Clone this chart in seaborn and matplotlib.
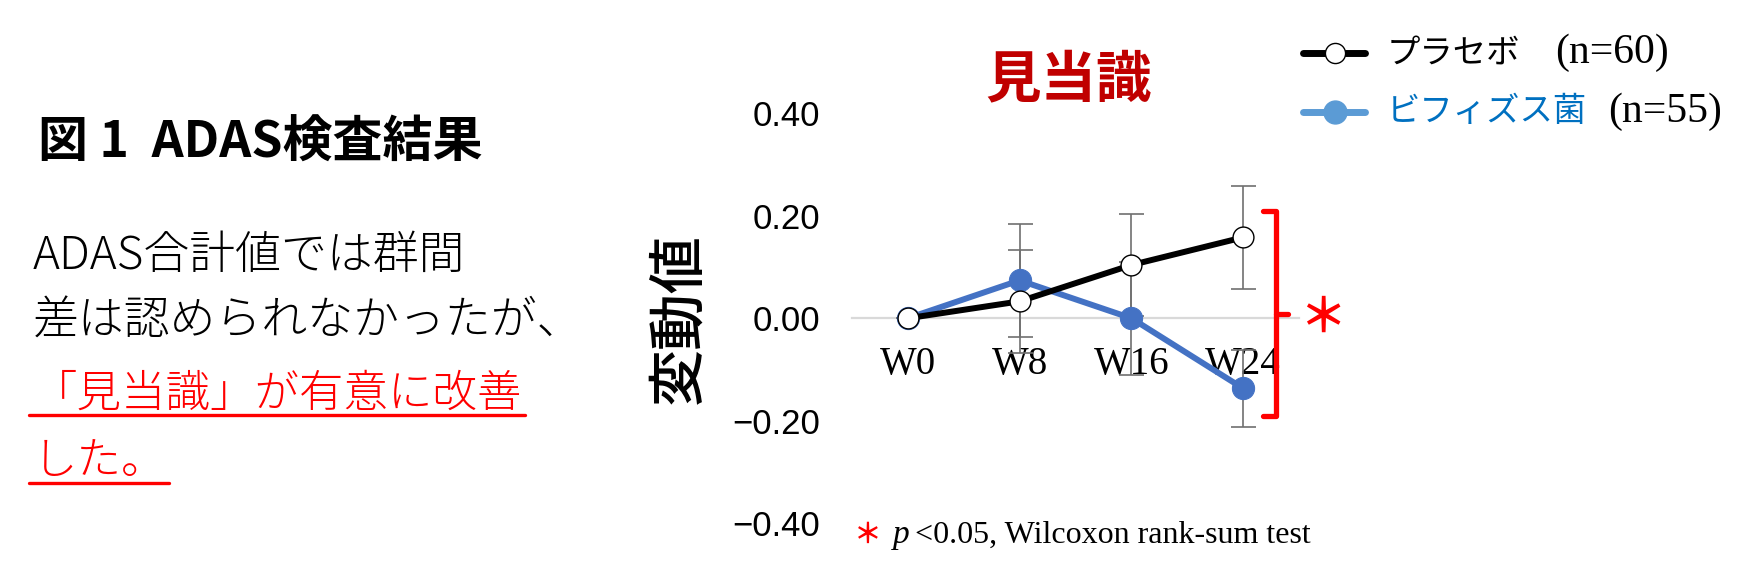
import numpy as np
import pandas as pd
import matplotlib
matplotlib.use('Agg')
import matplotlib.pyplot as plt
from matplotlib.lines import Line2D
from matplotlib.ticker import FuncFormatter
import seaborn as sns

# --- data ---
weeks = ['W0', 'W8', 'W16', 'W24']
placebo_mean = [0.00, 0.033, 0.104, 0.158]
placebo_err = [0.00, 0.10, 0.10, 0.10]
bifido_mean = [0.00, 0.074, 0.00, -0.137]
bifido_err = [0.00, 0.11, 0.11, 0.075]
yticks = [-0.40, -0.20, 0.00, 0.20, 0.40]

W, H = 1757, 568
sns.set_theme(style='white')
plt.rcParams['font.family'] = ['Noto Sans CJK JP', 'DejaVu Sans']
plt.rcParams['text.color'] = 'black'
plt.rcParams['xtick.color'] = 'black'
plt.rcParams['ytick.color'] = 'black'
SERIF = ['Liberation Serif', 'Noto Sans CJK JP']
SANS = ['Liberation Sans', 'DejaVu Sans']


def px(x, y):
    return x / W, 1 - y / H


fig = plt.figure(figsize=(W / 100, H / 100), dpi=100)
fig.patch.set_facecolor('white')
ax = fig.add_axes([852 / W, 1 - 523 / H, (1299 - 852) / W, (523 - 113.5) / H])
ax.set_facecolor('white')

df = pd.DataFrame({
    'week': weeks * 2,
    'change': placebo_mean + bifido_mean,
    'group': ['placebo'] * 4 + ['bifido'] * 4,
})

# error bars (behind the lines)
ax.errorbar(weeks, bifido_mean, yerr=bifido_err, fmt='none', ecolor='#707070',
            elinewidth=1.2, capsize=9, capthick=1.2, zorder=2)
ax.errorbar(weeks, placebo_mean, yerr=placebo_err, fmt='none', ecolor='#707070',
            elinewidth=1.2, capsize=9, capthick=1.2, zorder=2)

sns.lineplot(data=df[df['group'] == 'bifido'], x='week', y='change', color='#4472C4',
             linewidth=4.3, marker='o', markersize=16, markerfacecolor='#4472C4',
             markeredgecolor='#4472C4', errorbar=None, ax=ax, zorder=3)
sns.lineplot(data=df[df['group'] == 'placebo'], x='week', y='change', color='black',
             linewidth=4.3, marker='o', markersize=15, markerfacecolor='white',
             markeredgecolor='black', markeredgewidth=1.0, errorbar=None, ax=ax, zorder=4)

ax.set_xlim(-0.5, 3.5)
ax.set_ylim(-0.4, 0.4)
ax.set_yticks(yticks)
ax.yaxis.set_major_formatter(FuncFormatter(lambda v, p: f'{v:.2f}'.replace('-', '\u2212')))
for s in ['left', 'top', 'right']:
    ax.spines[s].set_visible(False)
ax.spines['bottom'].set_position(('data', 0))
ax.spines['bottom'].set_color('#d9d9d9')
ax.spines['bottom'].set_linewidth(1.6)
ax.spines['bottom'].set_zorder(1)
ax.tick_params(axis='y', length=0, pad=23, labelsize=25)
ax.tick_params(axis='x', length=0, pad=20, labelsize=28)
for lab in ax.get_yticklabels():
    lab.set_family(SANS)
for lab in ax.get_xticklabels():
    lab.set_family(SERIF)
ax.set_xlabel('')
ax.set_ylabel('')
ax.grid(False)
if ax.get_legend() is not None:
    ax.get_legend().remove()

# significance bracket
ax.plot([3.18, 3.295, 3.295, 3.18], [0.21, 0.21, -0.19, -0.19], color='#ff0000',
        lw=3.8, clip_on=False, solid_joinstyle='round', zorder=5)
ax.plot([3.295, 3.40], [0.008, 0.008], color='#ff0000', lw=3.8, clip_on=False, zorder=5)
ax.text(3.71, 0.0, '＊', color='#ff0000', fontsize=34, fontweight='bold',
        ha='center', va='center', clip_on=False)

# chart title and y label
fig.text(*px(1069, 80), '見当識', color='#c00000', fontsize=40, fontweight='bold',
         ha='center', va='center')
fig.text(*px(679, 318), '変動値', fontsize=41, fontweight='medium', rotation=90,
         ha='center', va='center')

# footnote
fig.text(*px(868, 535), '＊', color='#ff0000', fontsize=20, fontweight='bold',
         ha='center', va='center')
fig.text(*px(893, 535), 'p', family=SERIF, style='italic', fontsize=24, ha='left', va='center')
fig.text(*px(915, 535), '<0.05, Wilcoxon rank-sum test', family=SERIF, fontsize=23,
         ha='left', va='center')

# legend drawn by hand
rows = [(52.7, 'black', 'white', 'black', 14.5, 'プラセボ', 'black', '(n=60)', 1555),
        (111.7, '#5b9bd5', '#5b9bd5', '#5b9bd5', 16.5, 'ビフィズス菌', '#0070c0', '(n=55)', 1608)]
for y, lc, mfc, mec, ms, name, tc, nlab, nx in rows:
    x0, y0 = px(1303, y)
    x1, _ = px(1365, y)
    xm, _ = px(1335, y)
    fig.add_artist(Line2D([x0, xm, x1], [y0, y0, y0], transform=fig.transFigure, color=lc,
                          lw=5, solid_capstyle='round', marker='o', markevery=[1],
                          markersize=ms, markerfacecolor=mfc, markeredgecolor=mec,
                          markeredgewidth=1.0))
    fig.text(*px(1387, y), name, color=tc, fontsize=24, ha='left', va='center')
    fig.text(*px(nx, y), nlab, family=SERIF, fontsize=30, ha='left', va='center')

# left-hand text block
fig.text(*px(38, 143), '図 1  ADAS検査結果', fontsize=36, fontweight='bold',
         ha='left', va='center')
fig.text(*px(33, 256), 'ADAS合計値では群間', fontsize=33, fontweight='light',
         ha='left', va='center')
fig.text(*px(33, 322), '差は認められなかったが、', fontsize=33, fontweight='light',
         ha='left', va='center')
t3 = fig.text(*px(33, 394), '「見当識」が有意に改善', fontsize=32, fontweight='light',
              color='#ff0000', ha='left', va='center')
t4 = fig.text(*px(33, 462), 'した。', fontsize=32, fontweight='light',
              color='#ff0000', ha='left', va='center')

fig.canvas.draw()
for t, uy in [(t3, 415), (t4, 483)]:
    bb = t.get_window_extent()
    fig.add_artist(Line2D([29 / W, (bb.x1 + 2) / W], [1 - uy / H] * 2,
                          transform=fig.transFigure, color='#ff0000', lw=2.4))

fig.savefig('out.png', dpi=100, facecolor='white')
